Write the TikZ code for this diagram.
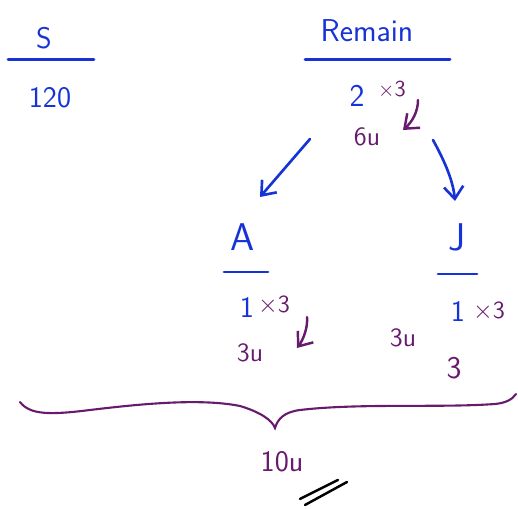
\documentclass[tikz,border=0pt]{standalone}
\usepackage{tikz}
\usetikzlibrary{arrows.meta, positioning, calc}
\definecolor{inkblue}{RGB}{22,52,214}
\definecolor{inkpurple}{RGB}{104,26,110}
\tikzset{
	bluetext/.style={font=\sffamily\fontsize{#1}{#1}\selectfont, text=inkblue, inner sep=0pt},
	purpletext/.style={font=\sffamily\fontsize{#1}{#1}\selectfont, text=inkpurple, inner sep=0pt}
}
\tikzset{
	underline/.style={draw=inkblue, line width=1.7pt, line cap=round},
	bluearrow/.style={draw=inkblue, line width=1.5pt, line cap=round, ->},
	purplearrow/.style={draw=inkpurple, line width=1.4pt, line cap=round, ->}
}
\begin{document}
\begin{tikzpicture}[x=0.02cm, y=-0.02cm, >={Straight Barb[length=7pt,width=11pt]}]
      \useasboundingbox (0,0) rectangle (518,509);
      % S column
      \node[bluetext=17pt] (s) at (44,38) {S};
      \draw[underline] (8,60) -- (94,60);
      \node[bluetext=17pt] (sval) at (50,98) {120};
      % Remain column
      \node[bluetext=18pt] (remain) at (367,31) {Remain};
      \draw[underline] (305,60) -- (450,60);
      \node[bluetext=18pt] (rtwo) at (357,96) {2};
      \node[purpletext=13pt] (rtimes) at (392,90) {$\times$3};
      \node[purpletext=15pt] (rsix) at (367,137) {6u};
      \coordinate (rarr) at (418,100);
      \coordinate (rtip) at (403,130);
      \draw[purplearrow] (rarr) .. controls (418,112) and (412,122) .. (rtip);
      % split into A and J
      \coordinate (lstart) at (310,139);
      \coordinate (rstart) at (433,140);
      \node[bluetext=22pt] (a) at (243,237) {A};
      \node[bluetext=22pt] (j) at (457,237) {J};
      \coordinate (atip) at (260,197);
      \coordinate (jtip) at (455,201);
      \draw[bluearrow] (lstart) -- (atip);
      \draw[bluearrow] (rstart) .. controls (444,160) and (453,180) .. (jtip);
      \draw[underline] (224,272) -- (268,272);
      \draw[underline] (438,274) -- (477,274);
      % A values
      \node[bluetext=17pt] (aone) at (247,307) {1};
      \node[purpletext=14pt] (atimes) at (274,305) {$\times$3};
      \node[purpletext=15pt] (athree) at (250,353) {3u};
      \coordinate (aarr) at (307,317);
      \coordinate (aatip) at (297,348);
      \draw[purplearrow] (aarr) .. controls (308,328) and (303,340) .. (aatip);
      % J values
      \node[bluetext=17pt] (jone) at (458,311) {1};
      \node[purpletext=14pt] (jtimes) at (489,311) {$\times$3};
      \node[purpletext=15pt] (mid) at (403,338) {3u};
      \node[purpletext=18pt] (jthree) at (454,368) {3};
      % brace and total
      \coordinate (bl) at (20,402);
      \coordinate (bm) at (275,428);
      \coordinate (br) at (516,394);
      \draw[inkpurple, line width=1.2pt, line cap=round]
        (bl) .. controls (30,415) and (50,415) .. (90,410)
        .. controls (140,404) and (200,398) .. (240,406)
        .. controls (260,412) and (272,420) .. (bm)
        .. controls (278,418) and (285,412) .. (300,410)
        .. controls (360,403) and (440,408) .. (495,404)
        .. controls (505,403) and (512,400) .. (br);
      \node[purpletext=17pt] (total) at (282,462) {10u};
      % double stroke under the total
      \draw[line width=1.4pt, line cap=round] (300,499) -- (338,480);
      \draw[line width=1.4pt, line cap=round] (305,505) -- (347,482);
    \end{tikzpicture}
\end{document}
